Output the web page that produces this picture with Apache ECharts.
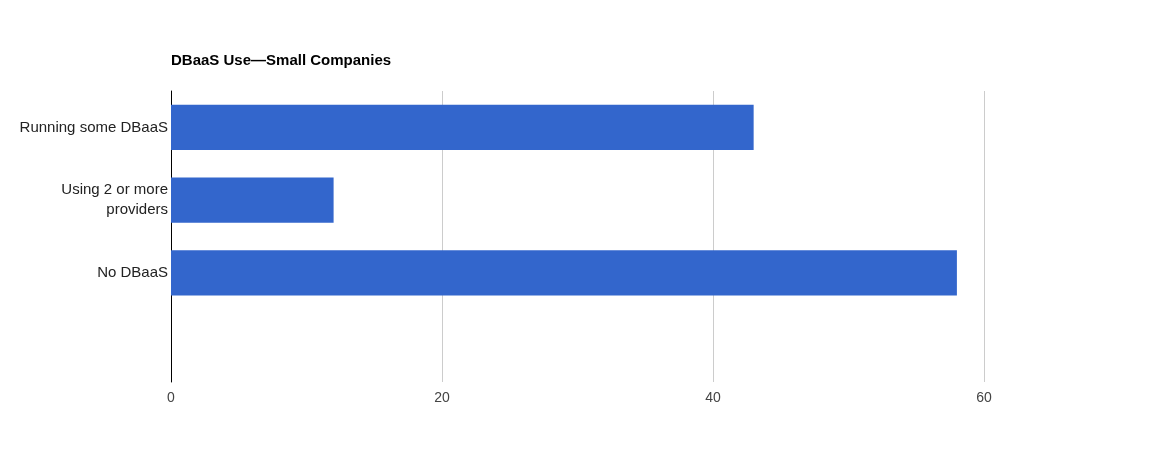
<!DOCTYPE html>
<html>
<head>
<meta charset="utf-8">
<script src="https://cdn.jsdelivr.net/npm/echarts@6/dist/echarts.min.js"></script>
<style>html,body{margin:0;padding:0;background:#fff;}#c{width:1156px;height:473px;}</style>
</head>
<body>
<div id="c"></div>
<script>
const title = "DBaaS Use\u2014Small Companies";
const categories = ["Running some DBaaS", "Using 2 or more\nproviders", "No DBaaS", ""];
const values = [43, 12, 58, null];
const xTicks = [0, 20, 40, 60];

const chart = echarts.init(document.getElementById('c'));
chart.setOption({
  animation: false,
  title: {
    text: title, left: 171, top: 53, padding: 0,
    textStyle: {fontFamily: 'Liberation Sans, Arial, sans-serif', fontSize: 15, fontWeight: 'bold', color: '#000'}
  },
  grid: {left: 171, top: 91, width: 813, height: 291, containLabel: false},
  xAxis: {
    type: 'value', min: 0, max: 60, interval: 20,
    axisLine: {show: false}, axisTick: {show: false},
    splitLine: {show: true, lineStyle: {color: '#cccccc', width: 1}},
    axisLabel: {
      margin: 9, color: '#444', fontSize: 14, fontFamily: 'Liberation Sans, Arial, sans-serif',
      formatter: v => xTicks.includes(v) ? String(v) : ''
    }
  },
  yAxis: {
    type: 'category', data: categories, inverse: true,
    axisLine: {show: true, lineStyle: {color: '#000', width: 1}},
    axisTick: {show: false},
    axisLabel: {margin: 3, color: '#222', fontSize: 15, lineHeight: 20, fontFamily: 'Liberation Sans, Arial, sans-serif', align: 'right'}
  },
  series: [{
    type: 'bar', data: values, barCategoryGap: '38%',
    itemStyle: {color: '#3366cc'}
  }]
});
</script>
</body>
</html>
